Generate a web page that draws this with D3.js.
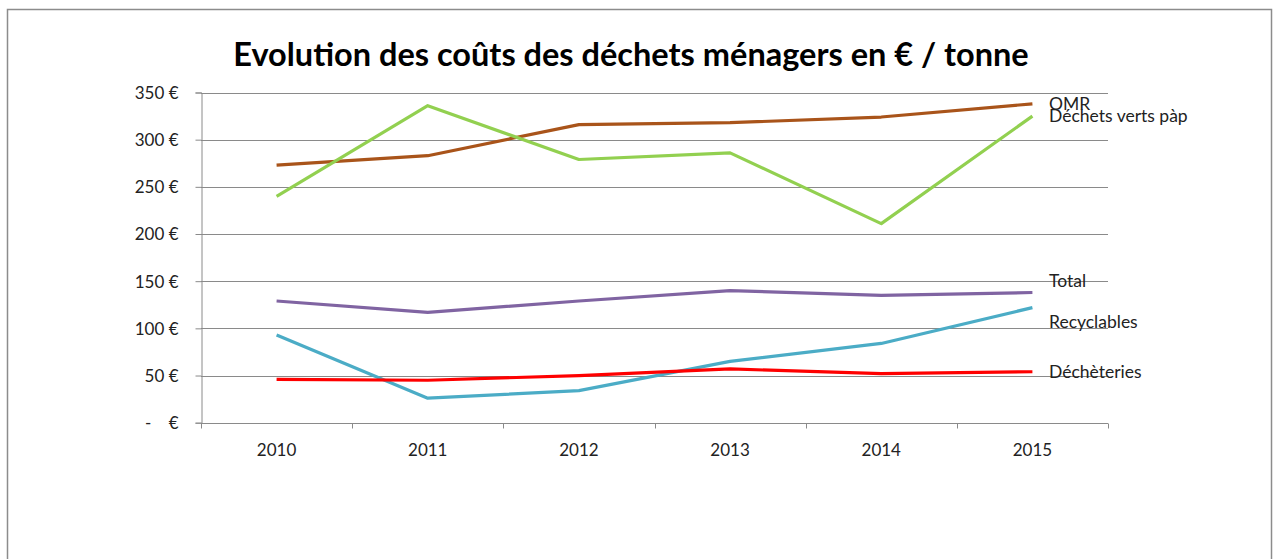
<html>
<head>
  <meta charset="utf-8">
  <style>
    body { margin: 0; background: #fff; }
    svg { display: block; font-family: Lato, "Open Sans", sans-serif; }
  </style>
</head>
<body>
  <svg></svg>
  <script src="https://d3js.org/d3.v7.min.js"></script>
  <script>
    let width = 1276, height = 559;

    // data
    let years = ["2010", "2011", "2012", "2013", "2014", "2015"];
    let seriesNames = ["OMR", "Déchets verts pàp", "Total", "Recyclables", "Déchèteries"];
    let omr = [273, 283, 316, 318, 324, 338];
    let dechetsVerts = [240, 336, 279, 286, 211, 325];
    let total = [129, 117, 129, 140, 135, 138];
    let recyclables = [93, 26, 34, 65, 84, 122];
    let decheteries = [46, 45, 50, 57, 52, 54];
    let yTicks = [0, 50, 100, 150, 200, 250, 300, 350];

    let colors = ["#a9541a", "#92d050", "#8064a2", "#4bacc6", "#ff0000"];
    let labelNudge = [0, 0, -12, 14, 0];

    let series = [omr, dechetsVerts, total, recyclables, decheteries].map((v, i) => ({
      name: seriesNames[i], values: v, color: colors[i], nudge: labelNudge[i]
    }));

    let svg = d3.select("svg")
      .attr("width", width)
      .attr("height", height);

    // outer frame
    svg.append("rect")
      .attr("x", 7.5).attr("y", 9.5)
      .attr("width", 1264).attr("height", 570)
      .attr("fill", "none")
      .attr("stroke", "#8c8c8c")
      .attr("stroke-width", 1.5);

    svg.append("text")
      .attr("x", 631).attr("y", 66)
      .attr("text-anchor", "middle")
      .style("font-size", "32.5px")
      .style("font-weight", "bold")
      .style("fill", "#000")
      .text("Evolution des coûts des déchets ménagers en € / tonne");

    let x = d3.scaleBand().domain(years).range([201, 1108]);
    let y = d3.scaleLinear().domain([0, 350]).range([422.7, 92.5]);

    // gridlines
    svg.append("g")
      .selectAll("line")
      .data(yTicks.slice(1))
      .enter()
      .append("line")
      .attr("x1", 201).attr("x2", 1108)
      .attr("y1", d => Math.round(y(d)) + 0.5)
      .attr("y2", d => Math.round(y(d)) + 0.5)
      .attr("stroke", "#8a8a8a")
      .attr("stroke-width", 1);

    // y axis
    let yAxis = svg.append("g")
      .attr("transform", "translate(201.5,0)")
      .call(d3.axisLeft(y)
        .tickValues(yTicks)
        .tickSize(6)
        .tickPadding(17)
        .tickFormat(d => d === 0 ? "-\u00A0\u00A0\u00A0\u00A0€" : d + "\u00A0€"));
    yAxis.attr("font-family", "Lato, sans-serif").attr("font-size", 17);
    yAxis.select(".domain").attr("stroke", "#8a8a8a");
    yAxis.selectAll(".tick line").attr("stroke", "#8a8a8a");
    yAxis.selectAll(".tick text").attr("dy", "0.35em").attr("fill", "#222");

    // x axis
    let xAxis = svg.append("g")
      .attr("transform", "translate(0," + (Math.round(y(0)) + 0.5) + ")");
    xAxis.call(d3.axisBottom(x).tickSize(0).tickPadding(20));
    xAxis.attr("font-family", "Lato, sans-serif").attr("font-size", 17);
    xAxis.selectAll(".tick text").attr("fill", "#222");
    xAxis.select(".domain").attr("stroke", "#8a8a8a").attr("d", "M201,0H1108");
    xAxis.selectAll(".bound")
      .data(years.concat(["end"]))
      .enter()
      .append("line")
      .attr("class", "bound")
      .attr("x1", (d, i) => Math.round(x.range()[0] + i * x.bandwidth()) + 0.5)
      .attr("x2", (d, i) => Math.round(x.range()[0] + i * x.bandwidth()) + 0.5)
      .attr("y1", 0).attr("y2", 5)
      .attr("stroke", "#8a8a8a");

    // lines
    let line = d3.line()
      .x((d, i) => x(years[i]) + x.bandwidth() / 2)
      .y(d => y(d));

    svg.append("g")
      .selectAll("path")
      .data(series)
      .enter()
      .append("path")
      .attr("d", d => line(d.values))
      .attr("fill", "none")
      .attr("stroke", d => d.color)
      .attr("stroke-width", 3.2)
      .attr("stroke-linejoin", "round");

    // series labels
    svg.append("g")
      .selectAll("text")
      .data(series)
      .enter()
      .append("text")
      .attr("x", 1049)
      .attr("y", d => y(d.values[d.values.length - 1]) + d.nudge)
      .attr("dy", "0.35em")
      .style("font-size", "17.5px")
      .style("fill", "#222")
      .text(d => d.name);
  </script>
</body>
</html>
